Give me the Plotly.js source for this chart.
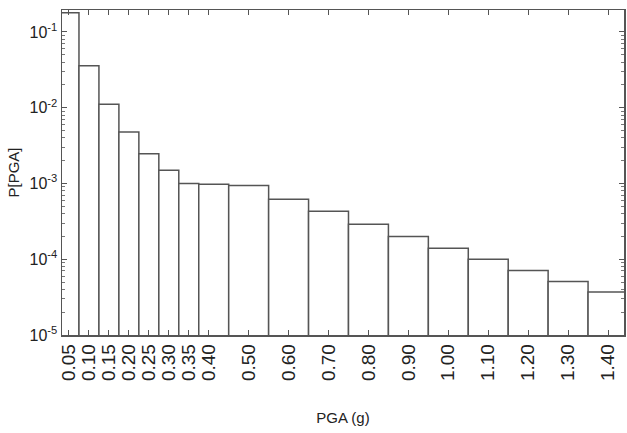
<!DOCTYPE html>
<html><head><meta charset="utf-8">
<script src="https://cdn.plot.ly/plotly-3.0.1.min.js"></script>
<style>html,body{margin:0;padding:0;background:#fff}#chart{width:627px;height:433px}</style>
</head><body><div id="chart"></div>
<script>
const pgaLabels = ['0.05','0.10','0.15','0.20','0.25','0.30','0.35','0.40','0.50','0.60','0.70','0.80','0.90','1.00','1.10','1.20','1.30','1.40'];
const binLo = [0.025,0.075,0.125,0.175,0.225,0.275,0.325,0.375,0.45,0.55,0.65,0.75,0.85,0.95,1.05,1.15,1.25,1.35];
const binHi = [0.075,0.125,0.175,0.225,0.275,0.325,0.375,0.45,0.55,0.65,0.75,0.85,0.95,1.05,1.15,1.25,1.35,1.45];
const prob = [0.18,0.0358,0.0111,0.0048,0.00247,0.00149,0.00100,0.00098,0.00094,0.00062,0.00043,0.00029,0.00020,0.00014,0.00010,0.000071,0.000051,0.000037];
const yTickVals = [1e-5,1e-4,1e-3,1e-2,1e-1];
const yTickText = ['10<sup>-5</sup>','10<sup>-4</sup>','10<sup>-3</sup>','10<sup>-2</sup>','10<sup>-1</sup>'];

const centers = binLo.map((lo,i)=>(lo+binHi[i])/2);
const widths = binLo.map((lo,i)=>binHi[i]-lo);
const minorVals = [];
yTickVals.forEach(d=>{ for(let k=2;k<=9;k++){ if(d*k<0.2) minorVals.push(d*k); } });
const lineCol = '#555';

Plotly.newPlot('chart', [{
  type:'bar', x:centers, y:prob, width:widths,
  marker:{color:'#fff', line:{color:lineCol, width:1.5}},
  hoverinfo:'skip'
}], {
  width:627, height:433,
  margin:{l:62, r:3, t:10, b:98},
  paper_bgcolor:'#fff', plot_bgcolor:'#fff',
  showlegend:false,
  font:{family:'Liberation Sans, Arial, sans-serif', color:'#222'},
  xaxis:{
    range:[0.0325,1.44], showgrid:false, zeroline:false,
    showline:true, linecolor:lineCol, linewidth:1.5, mirror:'ticks',
    ticks:'inside', ticklen:5, tickcolor:lineCol,
    tickmode:'array', tickvals:pgaLabels.map(parseFloat), ticktext:pgaLabels,
    tickangle:-90, tickfont:{size:19, color:'#222'},
    title:{text:'PGA (g)', font:{size:15, color:'#222'}, standoff:32}
  },
  yaxis:{
    type:'log', range:[-5,-0.71], showgrid:false, zeroline:false,
    showline:true, linecolor:lineCol, linewidth:1.5, mirror:'ticks',
    ticks:'inside', ticklen:5, tickcolor:lineCol,
    tickmode:'array', tickvals:yTickVals, ticktext:yTickText,
    tickfont:{size:16, color:'#222'},
    minor:{tickmode:'array', tickvals:minorVals, ticks:'inside', ticklen:3, tickcolor:'#777', tickwidth:1, showgrid:false},
    title:{text:'P[PGA]', font:{size:15, color:'#222'}, standoff:6}
  }
}, {staticPlot:true});
</script></body></html>
